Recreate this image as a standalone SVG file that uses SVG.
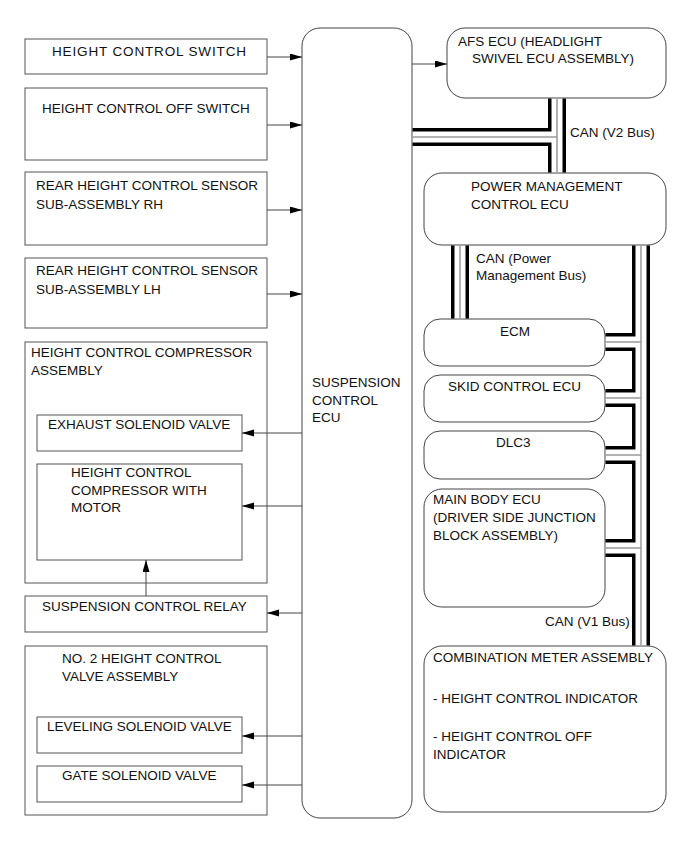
<svg xmlns="http://www.w3.org/2000/svg" width="691" height="854" viewBox="0 0 691 854">
<defs>
<marker id="ah" markerUnits="userSpaceOnUse" markerWidth="13" markerHeight="8" refX="12" refY="3.5" orient="auto">
<path d="M0,0 L12,3.5 L0,7 z" fill="#000"/>
</marker>
<style>
.box{fill:#fff;stroke:#555;stroke-width:1}
.rbox{fill:#fff;stroke:#444;stroke-width:1}
.t{font-family:"Liberation Sans",Arial,sans-serif;font-size:13.5px;fill:#111}
.ln{stroke:#444;stroke-width:1;fill:none;marker-end:url(#ah)}
.cb{stroke:#000;stroke-width:18;fill:none;stroke-linecap:butt}
.cw{stroke:#fff;stroke-width:11;fill:none;stroke-linecap:butt}
.cg{stroke:#999;stroke-width:1.5;fill:none;stroke-linecap:butt}
</style>
</defs>
<rect width="691" height="854" fill="#fff"/>
<g id="height-control-switch"><rect class="box" x="25" y="39" width="242" height="35"/><text class="t" x="52" y="56" textLength="194" lengthAdjust="spacing">HEIGHT CONTROL SWITCH</text></g>
<g id="height-control-off-switch"><rect class="box" x="25" y="88" width="242" height="72"/><text class="t" x="42" y="113">HEIGHT CONTROL OFF SWITCH</text></g>
<g id="rear-sensor-rh"><rect class="box" x="25" y="172" width="242" height="73"/><text class="t" x="36" y="190">REAR HEIGHT CONTROL SENSOR</text><text class="t" x="36" y="209">SUB-ASSEMBLY RH</text></g>
<g id="rear-sensor-lh"><rect class="box" x="25" y="258" width="242" height="70"/><text class="t" x="36" y="275">REAR HEIGHT CONTROL SENSOR</text><text class="t" x="36" y="294">SUB-ASSEMBLY LH</text></g>
<g id="compressor-assembly"><rect class="box" x="25" y="342" width="242" height="241"/><text class="t" x="31" y="357">HEIGHT CONTROL COMPRESSOR</text><text class="t" x="31" y="375">ASSEMBLY</text></g>
<g id="exhaust-solenoid-valve"><rect class="box" x="37" y="415" width="205" height="36"/><text class="t" x="48" y="429">EXHAUST SOLENOID VALVE</text></g>
<g id="compressor-motor"><rect class="box" x="37" y="464" width="205" height="96"/><text class="t" x="71" y="477">HEIGHT CONTROL</text><text class="t" x="71" y="495">COMPRESSOR WITH</text><text class="t" x="71" y="512">MOTOR</text></g>
<g id="suspension-control-relay"><rect class="box" x="25" y="596" width="242" height="36"/><text class="t" x="42" y="611">SUSPENSION CONTROL RELAY</text></g>
<g id="valve-assembly"><rect class="box" x="25" y="646" width="242" height="169"/><text class="t" x="62" y="663">NO. 2 HEIGHT CONTROL</text><text class="t" x="62" y="681">VALVE ASSEMBLY</text></g>
<g id="leveling-solenoid-valve"><rect class="box" x="37" y="717" width="205" height="36"/><text class="t" x="47" y="731">LEVELING SOLENOID VALVE</text></g>
<g id="gate-solenoid-valve"><rect class="box" x="37" y="766" width="205" height="36"/><text class="t" x="62" y="780">GATE SOLENOID VALVE</text></g>
<g id="suspension-control-ecu"><rect class="rbox" x="302" y="28" width="110" height="790" rx="18"/><text class="t" x="312" y="387">SUSPENSION</text><text class="t" x="312" y="405">CONTROL</text><text class="t" x="312" y="422">ECU</text></g>
<g id="afs-ecu"><rect class="rbox" x="447" y="28" width="219" height="70" rx="18"/><text class="t" x="458" y="46">AFS ECU (HEADLIGHT</text><text class="t" x="472" y="63">SWIVEL ECU ASSEMBLY)</text></g>
<g id="power-management-ecu"><rect class="rbox" x="424" y="173" width="242" height="72" rx="18"/><text class="t" x="471" y="191">POWER MANAGEMENT</text><text class="t" x="471" y="209">CONTROL ECU</text></g>
<g id="ecm"><rect class="rbox" x="424" y="319" width="181" height="47" rx="16"/><text class="t" x="500" y="336">ECM</text></g>
<g id="skid-control-ecu"><rect class="rbox" x="424" y="375" width="181" height="47" rx="16"/><text class="t" x="448" y="391">SKID CONTROL ECU</text></g>
<g id="dlc3"><rect class="rbox" x="424" y="431" width="181" height="48" rx="16"/><text class="t" x="496" y="447">DLC3</text></g>
<g id="main-body-ecu"><rect class="rbox" x="424" y="489" width="181" height="118" rx="18"/><text class="t" x="433" y="504">MAIN BODY ECU</text><text class="t" x="433" y="522">(DRIVER SIDE JUNCTION</text><text class="t" x="433" y="540">BLOCK ASSEMBLY)</text></g>
<g id="combination-meter"><rect class="rbox" x="424" y="646" width="242" height="166" rx="18"/><text class="t" x="433" y="662">COMBINATION METER ASSEMBLY</text><text class="t" x="433" y="703">- HEIGHT CONTROL INDICATOR</text><text class="t" x="433" y="741">- HEIGHT CONTROL OFF</text><text class="t" x="433" y="759">INDICATOR</text></g>
<g id="connectors">
<g id="cables">
<g class="cb">
<path d="M412.5 137 H557"/><path d="M557 98.5 V172.5"/><path d="M460 245.5 V318.5"/><path d="M641 245.5 V645.5"/>
<path d="M605.5 342 H641"/><path d="M605.5 398 H641"/><path d="M605.5 455 H641"/><path d="M605.5 548 H641"/>
</g>
<g class="cw">
<path d="M412.5 137 H557"/><path d="M557 98.5 V172.5"/><path d="M460 245.5 V318.5"/><path d="M641 245.5 V645.5"/>
<path d="M605.5 342 H641"/><path d="M605.5 398 H641"/><path d="M605.5 455 H641"/><path d="M605.5 548 H641"/>
</g>
<g class="cg">
<path d="M412.5 137 H557"/><path d="M557 98.5 V172.5"/><path d="M460 245.5 V318.5"/><path d="M641 245.5 V645.5"/>
<path d="M605.5 342 H641"/><path d="M605.5 398 H641"/><path d="M605.5 455 H641"/><path d="M605.5 548 H641"/>
</g>
</g>
<path class="ln" d="M267 57 H302"/>
<path class="ln" d="M267 125 H302"/>
<path class="ln" d="M267 210 H302"/>
<path class="ln" d="M267 294 H302"/>
<path class="ln" d="M302 433 H242"/>
<path class="ln" d="M302 506 H242"/>
<path class="ln" d="M302 613 H267"/>
<path class="ln" d="M146 596 V560"/>
<path class="ln" d="M302 736 H242"/>
<path class="ln" d="M302 785 H242"/>
<path class="ln" d="M412 64 H447"/>
</g>
<g id="bus-labels">
<text class="t" x="570" y="137">CAN (V2 Bus)</text>
<text class="t" x="476" y="263">CAN (Power</text>
<text class="t" x="476" y="280">Management Bus)</text>
<text class="t" x="545" y="626">CAN (V1 Bus)</text>
</g>
</svg>
